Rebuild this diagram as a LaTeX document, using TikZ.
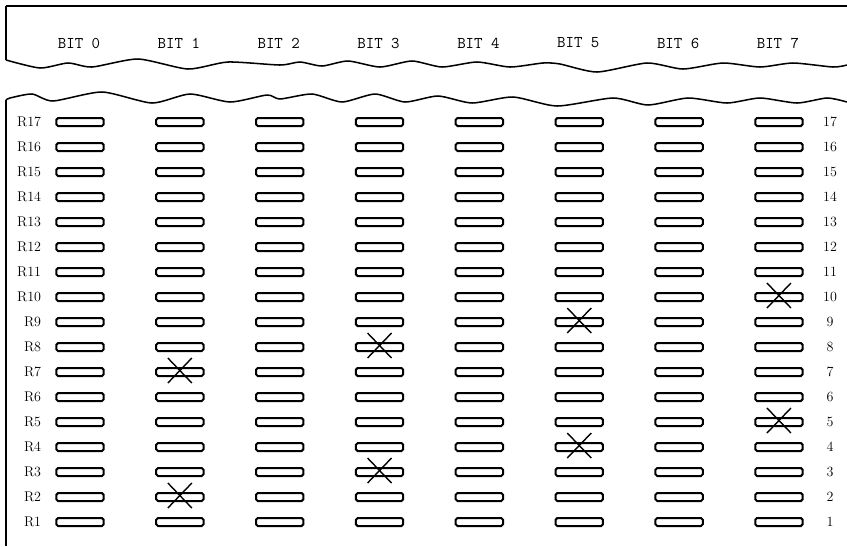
\documentclass[tikz,border=0pt]{standalone}
\usepackage{fontspec}
\usepackage{tikz}
\usetikzlibrary{positioning}

\begin{document}
\begin{tikzpicture}[
  x=0.03cm, y=-0.03cm,
  node distance=0.4cm,
  cell/.style={draw, line width=1.7pt, rounded corners=1.5pt,
               minimum width=1.42cm, minimum height=0.24cm, inner sep=0pt},
  rowlbl/.style={font=\fontsize{12}{14}\selectfont, inner sep=0pt},
  bitlbl/.style={font=\ttfamily\fontsize{14}{16}\selectfont\addfontfeature{LetterSpace=8},
                 inner sep=0pt},
  frame/.style={line width=1.3pt, line join=round},
  cross/.style={line width=1.2pt}
]
  \useasboundingbox (0,0) rectangle (847,546);

  % upper sheet, torn at the bottom
  \draw[frame, line width=1.8pt] (847,6) -- (6,6);
  \draw[frame] (6,6) -- (6,60);
  \draw[frame] plot[smooth, tension=0.4] coordinates {
    (6,60) (40,68) (68,63) (92,67) (138,59) (188,69) (228,62) (280,65)
    (300,62) (322,66) (348,61) (380,67) (412,61) (442,67) (477,62) (510,67)
    (543,63) (560,64) (597,72) (647,63) (683,69) (723,63) (760,67) (793,63)
    (833,67) (847,65)};

  % lower sheet, torn at the top
  \draw[frame] plot[smooth, tension=0.4] coordinates {
    (6,100) (10,98) (32,94) (53,101) (102,92) (152,103) (190,94) (230,102)
    (267,95) (280,99) (312,94) (342,102) (375,94) (405,102) (438,96)
    (472,103) (513,97) (557,106) (613,98) (648,105) (688,98) (727,103)
    (760,98) (797,103) (827,98) (847,102)};
  \draw[frame] (6,100) -- (6,546);

  % bit columns
  \foreach \b in {0,...,7} {
    \node[bitlbl] (bit-\b) at (79+99.85*\b,43) {BIT \b};
    \foreach \r in {1,...,17} {
      \node[cell] (c-\b-\r) at (80+99.85*\b,547-25*\r) {};
    }
  }

  % register labels
  \foreach \r in {1,...,17} {
    \node[rowlbl, left=0.42cm of c-0-\r] (reg-\r) {R\r};
    \node[rowlbl] (num-\r) at (830,547-25*\r) {\r};
  }

  % crossed-out cells
  \foreach \b/\r in {1/7, 1/2, 3/8, 3/3, 5/9, 5/4, 7/10, 7/5} {
    \draw[cross] ([shift={(-12,-14)}]c-\b-\r.center) -- ++(24,25);
    \draw[cross] ([shift={(12,-14)}]c-\b-\r.center) -- ++(-24,25);
  }
\end{tikzpicture}
\end{document}
